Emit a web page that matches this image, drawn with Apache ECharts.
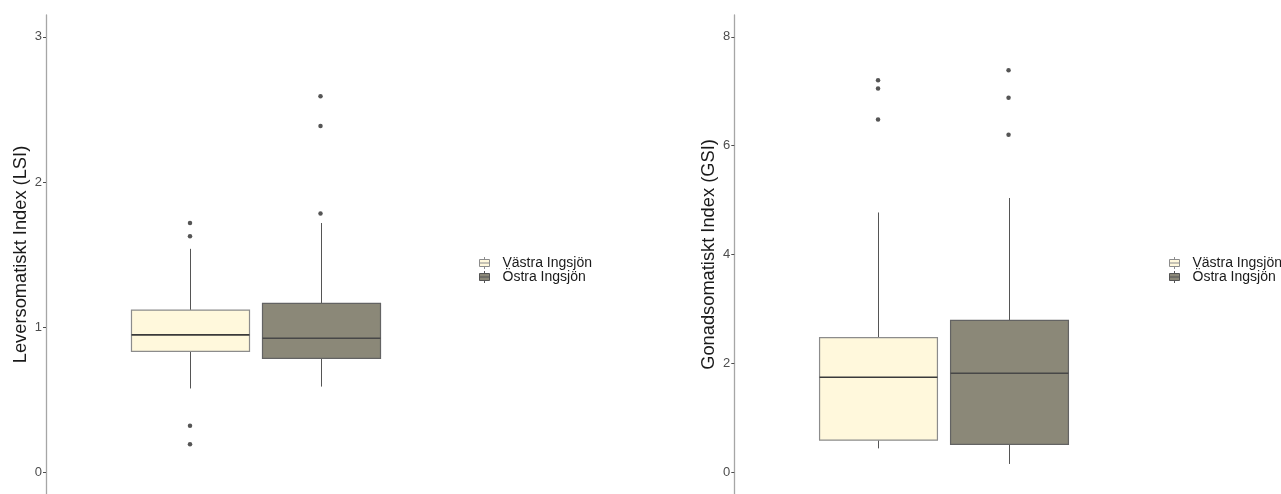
<!DOCTYPE html>
<html>
<head>
<meta charset="utf-8">
<script src="https://cdn.jsdelivr.net/npm/echarts@6/dist/echarts.min.js"></script>
<style>
html,body{margin:0;padding:0;background:#fff;}
#c{width:1281px;height:494px;}
</style>
</head>
<body>
<div id="c"></div>
<script>
// ---- data ----
const groups = ['Västra Ingsjön', 'Östra Ingsjön'];
const category = ['Ingsjön'];
// [min whisker, Q1, median, Q3, max whisker]
const lsiVastra = [0.577, 0.832, 0.946, 1.117, 1.539];
const lsiOstra  = [0.590, 0.785, 0.923, 1.163, 1.717];
const lsiVastraOut = [1.717, 1.626, 0.321, 0.192];
const lsiOstraOut  = [2.590, 2.385, 1.783];
const gsiVastra = [0.438, 0.589, 1.745, 2.474, 4.772];
const gsiOstra  = [0.152, 0.511, 1.818, 2.790, 5.038];
const gsiVastraOut = [7.203, 7.051, 6.479];
const gsiOstraOut  = [7.385, 6.880, 6.200];
const lsiTicks = [0, 1, 2, 3];
const gsiTicks = [0, 2, 4, 6, 8];
const lsiTitle = 'Leversomatiskt Index (LSI)';
const gsiTitle = 'Gonadsomatiskt Index (GSI)';

// ---- styles ----
const FONT = '"Liberation Sans", Arial, sans-serif';
const fills = ['#FFF8DC', '#8B8878'];
const borders = ['#8c8c8c', '#636363'];
const medians = ['#3a3a3a', '#474747'];
const whiskerColor = '#555555';
const boxFrac = 0.282;     // box width as share of the band
const dodgeFrac = 0.156;   // offset of box centre from band centre
const legendIcon = 'path://M0,2.5H10V9.5H0Z M0,6H10 M5,0V2.5 M5,9.5V12 M18,6';

function yAxis(gridIndex, min, max, ticks, name) {
  return {
    type: 'value', gridIndex, min, max,
    splitLine: {show: false},
    axisLine: {show: true, lineStyle: {color: '#a6a6a6', width: 1.3}},
    axisTick: {show: true, length: 3, customValues: ticks, lineStyle: {color: '#4d4d4d', width: 1}},
    axisLabel: {customValues: ticks, color: '#4d4d4d', fontSize: 13, fontFamily: FONT, margin: 4},
    name, nameLocation: 'middle', nameGap: 16, nameRotate: 90,
    nameTextStyle: {fontSize: 18.3, color: '#1a1a1a', fontFamily: FONT}
  };
}
function xAxis(gridIndex) {
  return {type: 'category', gridIndex, data: category, show: false};
}
function box(idx, g, values) {
  const side = g === 0 ? -1 : 1;
  return {
    type: 'custom', name: groups[g], xAxisIndex: idx, yAxisIndex: idx,
    itemStyle: {color: fills[g], borderColor: borders[g]},
    encode: {x: 0, y: [1, 2, 3, 4, 5]},
    silent: true,
    data: [[category[0]].concat(values)],
    renderItem: function (params, api) {
      const band = api.size([1, 0])[0];
      const c = api.coord([api.value(0), api.value(3)]);
      const xc = Math.round(c[0] + side * dodgeFrac * band) + 0.5;
      const w = boxFrac * band;
      const y = k => api.coord([api.value(0), api.value(k)])[1];
      const yMin = y(1), yQ1 = y(2), yMed = y(3), yQ3 = y(4), yMax = y(5);
      return {
        type: 'group',
        children: [
          {type: 'line', shape: {x1: xc, y1: yQ3, x2: xc, y2: yMax},
           style: {stroke: whiskerColor, lineWidth: 1}},
          {type: 'line', shape: {x1: xc, y1: yQ1, x2: xc, y2: yMin},
           style: {stroke: whiskerColor, lineWidth: 1}},
          {type: 'rect', shape: {x: xc - w / 2, y: yQ3, width: w, height: yQ1 - yQ3},
           style: {fill: fills[g], stroke: borders[g], lineWidth: 1.2}},
          {type: 'line', shape: {x1: xc - w / 2, y1: yMed, x2: xc + w / 2, y2: yMed},
           style: {stroke: medians[g], lineWidth: 1.6}}
        ]
      };
    }
  };
}
function outliers(idx, g, values) {
  return {
    type: 'scatter', xAxisIndex: idx, yAxisIndex: idx,
    symbolSize: 4.5, symbolOffset: [(g === 0 ? -1 : 1) * 65.25, 0],
    itemStyle: {color: '#2b2b2b'}, silent: true,
    data: values.map(v => [category[0], v])
  };
}
function legend(left) {
  return {
    orient: 'vertical', left, top: 256, itemGap: 0, padding: 0,
    itemWidth: 18, itemHeight: 12, icon: legendIcon,
    selectedMode: false,
    textStyle: {fontSize: 14, lineHeight: 14, color: '#1a1a1a', fontFamily: FONT},
    data: groups.map((n, i) => ({
      name: n,
      itemStyle: {color: fills[i], borderColor: i === 0 ? '#8c8c8c' : '#555555', borderWidth: 1}
    }))
  };
}

const chart = echarts.init(document.getElementById('c'), null, {renderer: 'canvas'});
chart.setOption({
  backgroundColor: '#ffffff',
  animation: false,
  grid: [
    {left: 46, width: 418.5, top: 15, bottom: -3},
    {left: 734.3, width: 418, top: 15, bottom: -3}
  ],
  xAxis: [xAxis(0), xAxis(1)],
  yAxis: [
    yAxis(0, -0.15, 3.15, lsiTicks, lsiTitle),
    yAxis(1, -0.4, 8.4, gsiTicks, gsiTitle)
  ],
  legend: [legend(479), legend(1169)],
  series: [
    box(0, 0, lsiVastra), box(0, 1, lsiOstra),
    outliers(0, 0, lsiVastraOut), outliers(0, 1, lsiOstraOut),
    box(1, 0, gsiVastra), box(1, 1, gsiOstra),
    outliers(1, 0, gsiVastraOut), outliers(1, 1, gsiOstraOut)
  ]
});
</script>
</body>
</html>
